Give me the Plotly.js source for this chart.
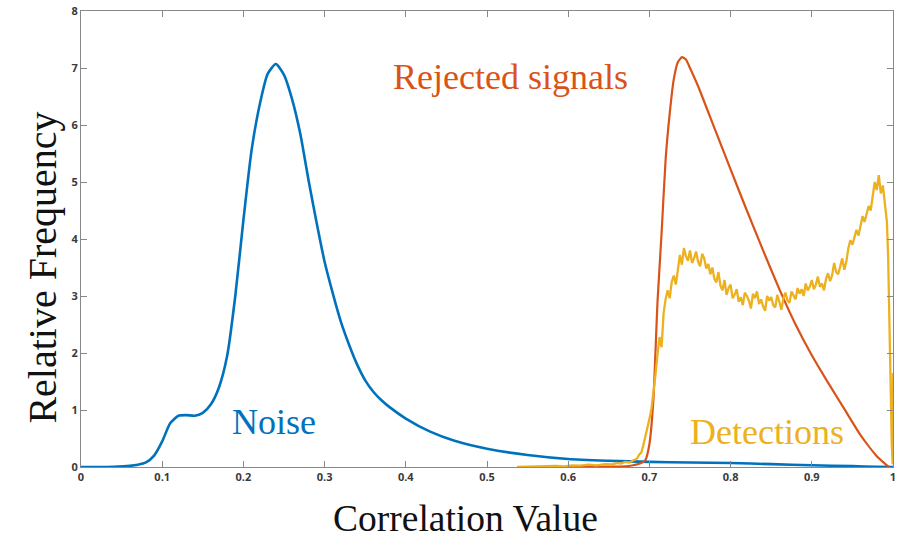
<!DOCTYPE html>
<html>
<head>
<meta charset="utf-8">
<script src="https://cdn.plot.ly/plotly-3.0.1.min.js"></script>
<style>html,body{margin:0;padding:0;background:#fff;}#chart{width:898px;height:539px;}</style>
</head>
<body>
<div id="chart"></div>
<script>
// Noise (blue)
const noiseX = [0, 0.02, 0.04, 0.06, 0.07, 0.08, 0.09, 0.1, 0.11, 0.12, 0.13, 0.14, 0.15, 0.16, 0.17, 0.18, 0.19, 0.2, 0.21, 0.22, 0.23, 0.24, 0.25, 0.26, 0.27, 0.28, 0.29, 0.3, 0.31, 0.32, 0.33, 0.34, 0.35, 0.36, 0.37, 0.38, 0.4, 0.43, 0.46, 0.5, 0.55, 0.6, 0.65, 0.7, 0.75, 0.8, 0.85, 0.9, 0.95, 0.98, 1.0];
const noiseY = [0, 0, 0.005, 0.02, 0.04, 0.08, 0.2, 0.45, 0.77, 0.9, 0.91, 0.9, 0.95, 1.1, 1.4, 1.95, 3.0, 4.33, 5.55, 6.35, 6.9, 7.07, 6.88, 6.45, 5.85, 5.05, 4.3, 3.6, 3.05, 2.55, 2.15, 1.8, 1.52, 1.32, 1.17, 1.05, 0.85, 0.62, 0.46, 0.32, 0.21, 0.14, 0.11, 0.09, 0.08, 0.07, 0.05, 0.03, 0.015, 0.005, 0];

// Rejected signals (red)
const rejectedX = [0.537, 0.6, 0.65, 0.67, 0.68, 0.69, 0.695, 0.7, 0.705, 0.71, 0.715, 0.72, 0.725, 0.73, 0.735, 0.74, 0.745, 0.75, 0.76, 0.78, 0.8, 0.82, 0.84, 0.86, 0.88, 0.9, 0.92, 0.94, 0.96, 0.98, 0.99, 0.995];
const rejectedY = [0, 0, 0.005, 0.01, 0.03, 0.07, 0.12, 0.4, 1.2, 2.9, 4.1, 5.4, 6.2, 6.8, 7.1, 7.19, 7.15, 7.0, 6.68, 5.95, 5.22, 4.5, 3.8, 3.12, 2.5, 1.96, 1.48, 1.02, 0.56, 0.19, 0.06, 0];

// Detections (yellow)
const detectX = [0.537, 0.545, 0.555, 0.565, 0.575, 0.585, 0.595, 0.605, 0.615, 0.625, 0.635, 0.645, 0.655, 0.66, 0.665, 0.67, 0.675, 0.68, 0.685, 0.6875,
 0.69, 0.6925, 0.695, 0.6975, 0.7, 0.7025, 0.705, 0.7075, 0.71, 0.7125, 0.715, 0.7175, 0.72, 0.7225, 0.725, 0.7275, 0.73, 0.7325, 0.735, 0.7375,
 0.74, 0.7425, 0.745, 0.7475, 0.75, 0.7525, 0.755, 0.7575, 0.76, 0.7625, 0.765, 0.7675, 0.77, 0.7725, 0.775, 0.7775, 0.78, 0.7825, 0.785, 0.7875,
 0.79, 0.7925, 0.795, 0.7975, 0.8, 0.8025, 0.805, 0.8075, 0.81, 0.8125, 0.815, 0.8175, 0.82, 0.8225, 0.825, 0.8275, 0.83, 0.8325, 0.835, 0.8375,
 0.84, 0.8425, 0.845, 0.8475, 0.85, 0.8525, 0.855, 0.8575, 0.86, 0.8625, 0.865, 0.8675, 0.87, 0.8725, 0.875, 0.8775, 0.88, 0.8825, 0.885, 0.8875,
 0.89, 0.8925, 0.895, 0.8975, 0.9, 0.9025, 0.905, 0.9075, 0.91, 0.9125, 0.915, 0.9175, 0.92, 0.9225, 0.925, 0.9275, 0.93, 0.9325, 0.935, 0.9375,
 0.94, 0.9425, 0.945, 0.9475, 0.95, 0.9525, 0.955, 0.9575, 0.96, 0.9625, 0.965, 0.9675, 0.97, 0.9725, 0.975, 0.9775, 0.98, 0.9825, 0.985, 0.9875,
 0.99, 0.9925, 0.994, 0.9955, 0.997, 0.9985, 0.9996, 1.0];
const detectY = [0, 0.005, 0.01, 0.005, 0.015, 0.02, 0.01, 0.03, 0.025, 0.04, 0.03, 0.05, 0.045, 0.07, 0.06, 0.09, 0.08, 0.12, 0.15, 0.22,
 0.25, 0.38, 0.52, 0.66, 0.84, 1.02, 1.28, 1.62, 1.98, 2.28, 2.10, 2.70, 2.95, 3.10, 2.96, 3.25, 3.36, 3.20, 3.45, 3.72,
 3.55, 3.84, 3.70, 3.62, 3.80, 3.58, 3.66, 3.78, 3.60, 3.52, 3.74, 3.66, 3.48, 3.56, 3.38, 3.50, 3.30, 3.24, 3.42, 3.18,
 3.10, 3.28, 3.02, 3.14, 3.20, 2.96, 3.02, 3.12, 2.90, 2.98, 2.84, 3.06, 3.00, 2.92, 2.78, 3.04, 2.96, 3.08, 2.86, 2.94,
 2.82, 2.74, 3.00, 2.92, 2.98, 2.84, 2.80, 3.02, 2.90, 2.76, 2.96, 3.06, 2.92, 2.88, 3.08, 3.00, 2.94, 3.14, 3.04, 3.12,
 3.00, 3.22, 3.10, 3.16, 3.28, 3.12, 3.20, 3.34, 3.16, 3.22, 3.10, 3.30, 3.40, 3.26, 3.36, 3.58, 3.42, 3.38, 3.54, 3.66,
 3.46, 3.60, 3.84, 3.98, 3.90, 4.04, 4.16, 4.06, 4.24, 4.40, 4.30, 4.46, 4.58, 4.50, 4.74, 5.00, 4.86, 5.12, 4.80, 4.94,
 4.62, 4.30, 3.70, 2.40, 1.20, 0.40, 0.05, 1.65];

const xTicks = [0, 0.1, 0.2, 0.3, 0.4, 0.5, 0.6, 0.7, 0.8, 0.9, 1];
const xTickText = ['0', '0.1', '0.2', '0.3', '0.4', '0.5', '0.6', '0.7', '0.8', '0.9', '1'];
const yTicks = [0, 1, 2, 3, 4, 5, 6, 7, 8];

const BLUE = '#0072BD', RED = '#D95319', YELLOW = '#EDB120';
const serif = '"Liberation Serif", "Times New Roman", serif';
const tickFont = {family: '"Open Sans", "Noto Sans", sans-serif', size: 11, color: '#3a3a3a', weight: 'bold'};

const traces = [
  {x: noiseX, y: noiseY, type: 'scatter', mode: 'lines', line: {color: BLUE, width: 2.6, shape: 'spline', smoothing: 0.6}, hoverinfo: 'skip'},
  {x: rejectedX, y: rejectedY, type: 'scatter', mode: 'lines', line: {color: RED, width: 2.2, shape: 'spline', smoothing: 0.5}, hoverinfo: 'skip'},
  {x: detectX, y: detectY, type: 'scatter', mode: 'lines', line: {color: YELLOW, width: 2.3}, hoverinfo: 'skip'}
];

const layout = {
  width: 898, height: 539,
  margin: {l: 81, r: 5, t: 11, b: 72},
  paper_bgcolor: '#fff', plot_bgcolor: '#fff',
  showlegend: false,
  xaxis: {
    range: [0, 1], tickvals: xTicks, ticktext: xTickText,
    ticks: 'inside', ticklen: 6, tickcolor: '#888', tickwidth: 1,
    showline: true, linecolor: '#888', linewidth: 1, mirror: 'ticks',
    showgrid: false, zeroline: false, tickfont: tickFont
  },
  yaxis: {
    range: [0, 8], tickvals: yTicks,
    ticks: 'inside', ticklen: 6, tickcolor: '#888', tickwidth: 1,
    showline: true, linecolor: '#888', linewidth: 1, mirror: 'ticks',
    showgrid: false, zeroline: false, tickfont: tickFont
  },
  annotations: [
    {x: 0.474, y: -0.113, xref: 'paper', yref: 'paper', text: 'Correlation Value', showarrow: false,
     xanchor: 'center', yanchor: 'middle', font: {family: serif, size: 37.5, color: '#111'}},
    {x: -0.047, y: 0.437, xref: 'paper', yref: 'paper', text: 'Relative Frequency', showarrow: false, textangle: -90,
     xanchor: 'center', yanchor: 'middle', font: {family: serif, size: 40, color: '#111'}},
    {x: 0.2374, y: 0.79, xref: 'x', yref: 'y', text: 'Noise', showarrow: false, font: {family: serif, size: 36, color: BLUE}},
    {x: 0.529, y: 6.84, xref: 'x', yref: 'y', text: 'Rejected signals', showarrow: false, font: {family: serif, size: 36, color: RED}},
    {x: 0.845, y: 0.61, xref: 'x', yref: 'y', text: 'Detections', showarrow: false, font: {family: serif, size: 36, color: YELLOW}}
  ]
};

Plotly.newPlot('chart', traces, layout, {staticPlot: true, displayModeBar: false});
</script>
</body>
</html>
